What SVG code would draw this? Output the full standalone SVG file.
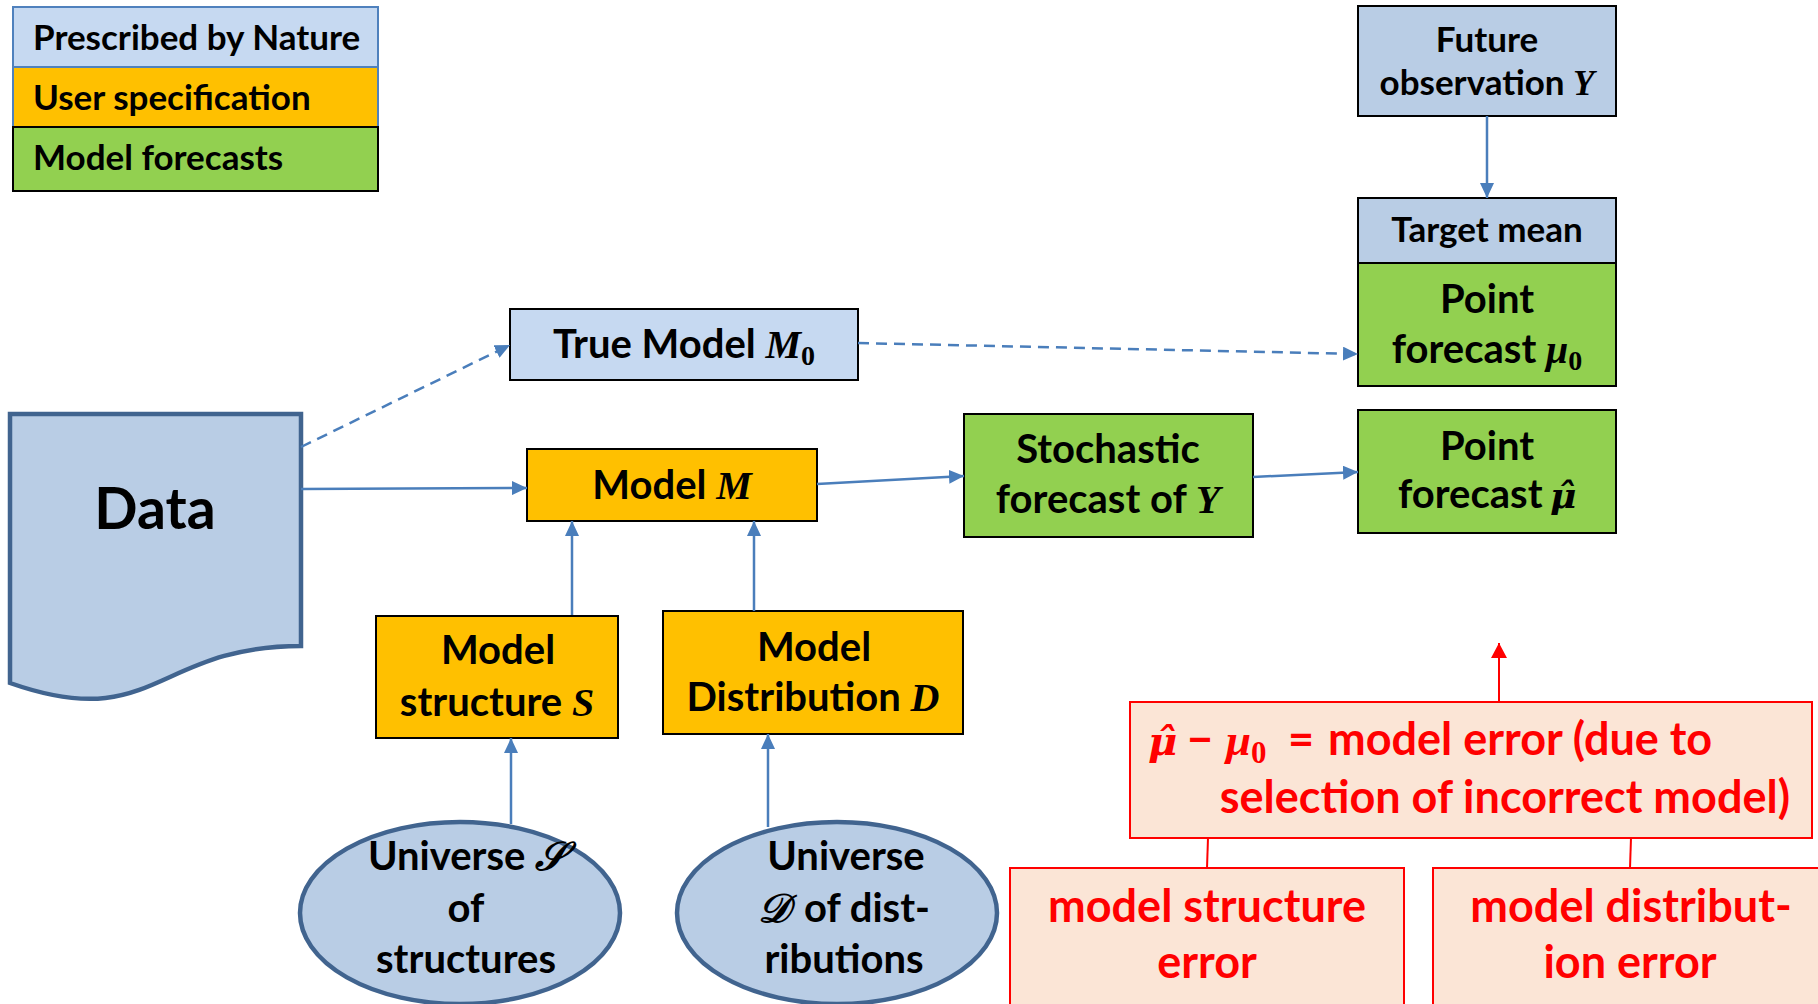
<svg xmlns="http://www.w3.org/2000/svg" width="1818" height="1004" viewBox="0 0 1818 1004">
<style>
.t{font-family:Lato,"Liberation Sans","DejaVu Sans",sans-serif;font-weight:bold;fill:#000}
.m{font-family:"Liberation Serif","DejaVu Serif",serif;font-style:italic;font-weight:bold}
.mh{font-family:"DejaVu Serif",serif;font-style:italic;font-weight:bold}
.sub{font-family:"Liberation Serif","DejaVu Serif",serif;font-weight:bold;font-style:normal}
.red{fill:#ff0000}
.nat{fill:#c6d9f1;stroke:#000;stroke-width:2}
.nat2{fill:#b9cde5;stroke:#000;stroke-width:2}
.usr{fill:#ffc000;stroke:#000;stroke-width:2}
.fc{fill:#92d050;stroke:#000;stroke-width:2}
.err{fill:#fbe5d6;stroke:#ff0000;stroke-width:2}
.blob{fill:#b9cde5;stroke:#41648f;stroke-width:4.5}
.c{stroke:#4a7ebb;stroke-width:2.5;fill:none}
.d{stroke-dasharray:11 7}
.rc{stroke:#ff0000;stroke-width:2;fill:none}
.L{font-size:35px}
.N{font-size:35px}
.B{font-size:40px}
.R{font-size:45px}
</style>
<defs>
<marker id="a" markerUnits="userSpaceOnUse" markerWidth="16" markerHeight="14" refX="15" refY="7" orient="auto"><path d="M0,0 L15,7 L0,14 z" fill="#4a7ebb"/></marker>
<marker id="ar" markerUnits="userSpaceOnUse" markerWidth="16" markerHeight="16" refX="15" refY="8" orient="auto"><path d="M0,0 L15,8 L0,16 z" fill="#ff0000"/></marker>
</defs>

<g id="legend">
<rect x="13" y="7" width="365" height="60" fill="#c6d9f1" stroke="#4f81bd" stroke-width="2"/>
<rect x="13" y="67" width="365" height="60" fill="#ffc000" stroke="#4f81bd" stroke-width="2"/>
<rect x="13" y="127" width="365" height="64" fill="#92d050" stroke="#000" stroke-width="2"/>
<text class="t L" x="33" y="50">Prescribed by Nature</text>
<text class="t L" x="33" y="110">User specification</text>
<text class="t L" x="33" y="170">Model forecasts</text>
</g>

<g id="future">
<rect class="nat2" x="1358" y="6" width="258" height="110"/>
<text class="t N" text-anchor="middle" x="1487" y="52">Future</text>
<text class="t N" text-anchor="middle" x="1487" y="95">observation <tspan class="m">Y</tspan></text>
</g>

<g id="target">
<rect class="nat2" x="1358" y="198" width="258" height="110"/>
<text class="t N" text-anchor="middle" x="1487" y="242">Target mean</text>
</g>

<g id="pointmu0">
<rect class="fc" x="1358" y="263" width="258" height="123"/>
<text class="t B" text-anchor="middle" x="1487" y="313">Point</text>
<text class="t B" text-anchor="middle" x="1487" y="363">forecast <tspan class="m">μ</tspan><tspan class="sub" font-size="28" dy="7">0</tspan></text>
</g>

<g id="pointmuhat">
<rect class="fc" x="1358" y="410" width="258" height="123"/>
<text class="t B" text-anchor="middle" x="1487" y="460">Point</text>
<text class="t B" y="508"><tspan x="1398">forecast</tspan><tspan class="mh" font-size="36" x="1550">μ̂</tspan></text>
</g>

<g id="truemodel">
<rect class="nat" x="510" y="309" width="348" height="71"/>
<text class="t B" text-anchor="middle" x="684" y="358">True Model <tspan class="m">M</tspan><tspan class="sub" font-size="28" dy="7">0</tspan></text>
</g>

<g id="data">
<path class="blob" d="M10,414 H301 V646 C155,646 155,734 10,683 Z"/>
<text class="t" font-size="57" text-anchor="middle" x="155" y="529">Data</text>
</g>

<g id="modelM">
<rect class="usr" x="527" y="449" width="290" height="72"/>
<text class="t B" text-anchor="middle" x="672" y="499">Model <tspan class="m">M</tspan></text>
</g>

<g id="stochastic">
<rect class="fc" x="964" y="414" width="289" height="123"/>
<text class="t B" text-anchor="middle" x="1108" y="463">Stochastic</text>
<text class="t B" text-anchor="middle" x="1108" y="513">forecast of <tspan class="m">Y</tspan></text>
</g>

<g id="structure">
<rect class="usr" x="376" y="616" width="242" height="122"/>
<text class="t B" text-anchor="middle" x="498" y="664">Model</text>
<text class="t B" text-anchor="middle" x="497" y="716">structure <tspan class="m">S</tspan></text>
</g>

<g id="distribution">
<rect class="usr" x="663" y="611" width="300" height="123"/>
<text class="t B" text-anchor="middle" x="814" y="661">Model</text>
<text class="t B" text-anchor="middle" x="813" y="711">Distribution <tspan class="m">D</tspan></text>
</g>

<g id="universeS">
<ellipse class="blob" cx="460" cy="913" rx="160" ry="91"/>
<text class="t B" text-anchor="middle" x="467" y="870">Universe <tspan class="m">𝒮</tspan></text>
<text class="t B" text-anchor="middle" x="466" y="922">of</text>
<text class="t B" text-anchor="middle" x="466" y="973">structures</text>
</g>

<g id="universeD">
<ellipse class="blob" cx="837" cy="913" rx="160" ry="91"/>
<text class="t B" text-anchor="middle" x="846" y="870">Universe</text>
<text class="t B" text-anchor="middle" x="844" y="922"><tspan class="m">𝒟</tspan><tspan dx="14">of dist-</tspan></text>
<text class="t B" text-anchor="middle" x="844" y="973">ributions</text>
</g>

<g id="modelerror">
<rect class="err" x="1130" y="702" width="682" height="136"/>
<text class="t R red" y="755"><tspan class="mh" font-size="40" x="1148">μ̂</tspan><tspan x="1187">−</tspan><tspan class="m" x="1226">μ</tspan><tspan class="sub" font-size="31" dy="8">0</tspan><tspan x="1288" dy="-8">=</tspan><tspan x="1328">model error (due to</tspan></text>
<text class="t R red" text-anchor="end" x="1790" y="813">selection of incorrect model)</text>
</g>

<g id="structerror">
<rect class="err" x="1010" y="868" width="394" height="150"/>
<text class="t R red" text-anchor="middle" x="1207" y="922">model structure</text>
<text class="t R red" text-anchor="middle" x="1207" y="978">error</text>
</g>

<g id="disterror">
<rect class="err" x="1433" y="868" width="400" height="150"/>
<text class="t R red" text-anchor="middle" x="1631" y="922">model distribut-</text>
<text class="t R red" text-anchor="middle" x="1630" y="978">ion error</text>
</g>

<g id="connectors">
<line class="c" x1="1487" y1="116" x2="1487" y2="198" marker-end="url(#a)"/>
<line class="c d" x1="301" y1="447" x2="510" y2="345" marker-end="url(#a)"/>
<line class="c d" x1="858" y1="343" x2="1358" y2="354" marker-end="url(#a)"/>
<line class="c" x1="301" y1="489" x2="527" y2="488" marker-end="url(#a)"/>
<line class="c" x1="817" y1="484" x2="964" y2="476" marker-end="url(#a)"/>
<line class="c" x1="1253" y1="477" x2="1358" y2="472" marker-end="url(#a)"/>
<line class="c" x1="572" y1="615" x2="572" y2="521" marker-end="url(#a)"/>
<line class="c" x1="754" y1="611" x2="754" y2="521" marker-end="url(#a)"/>
<line class="c" x1="511" y1="824" x2="511" y2="738" marker-end="url(#a)"/>
<line class="c" x1="768" y1="827" x2="768" y2="734" marker-end="url(#a)"/>
<line class="rc" x1="1499" y1="702" x2="1499" y2="643" marker-end="url(#ar)"/>
<line class="rc" x1="1208" y1="838" x2="1207" y2="868"/>
<line class="rc" x1="1631" y1="838" x2="1630" y2="868"/>
</g>
</svg>
